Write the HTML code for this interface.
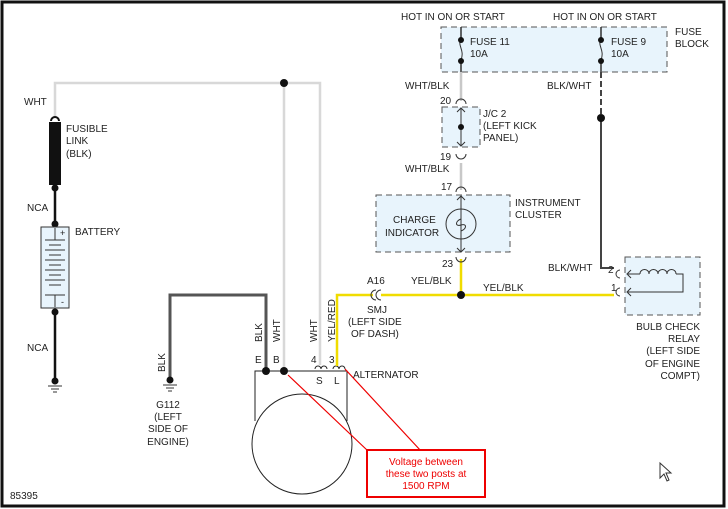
<!DOCTYPE html>
<html><head><style>body{margin:0;background:#fff}svg{display:block}text{font-family:"Liberation Sans",sans-serif;font-size:10px;fill:#222}</style></head><body>
<svg width="728" height="509" viewBox="0 0 728 509">
<rect x="2" y="2" width="722" height="504" fill="#fff" stroke="#111" stroke-width="3"/>
<!-- fuse block -->
<rect x="441" y="27" width="226" height="45" fill="#e8f4fc" stroke="#555" stroke-dasharray="6,4"/>
<rect x="442" y="107" width="38" height="40" fill="#e8f4fc" stroke="#555" stroke-dasharray="6,4"/>
<rect x="376" y="195" width="134" height="57" fill="#e8f4fc" stroke="#555" stroke-dasharray="6,4"/>
<rect x="625" y="257" width="75" height="58" fill="#e8f4fc" stroke="#555" stroke-dasharray="6,4"/>
<!-- WHT wires -->
<g fill="none" stroke="#d8d8d8" stroke-width="2.5">
<path d="M55 117V83H320V365"/><path d="M284 83V371"/>
</g>
<circle cx="284" cy="83" r="4" fill="#111"/>
<!-- fusible link & battery -->
<rect x="49" y="122" width="12" height="63" fill="#111"/>
<path d="M51 121a4 4 0 0 1 8 0" stroke="#111" stroke-width="2" fill="none"/>
<path d="M55 188V226M55 312V378" stroke="#111" stroke-width="2.5"/>
<circle cx="55" cy="188" r="3.5" fill="#111"/><circle cx="55" cy="224" r="3.5" fill="#111"/><circle cx="55" cy="312" r="3.5" fill="#111"/>
<rect x="41" y="227" width="28" height="81" fill="#e8f4fc" stroke="#333"/>
<g stroke="#333"><path d="M55 228V240M45 240H65M49 245H61M45 250H65M49 255H61M45 260H65M49 265H61M45 270H65M49 275H61M45 280H65M49 285H61M45 295H65M55 295V307"/></g>
<text x="60" y="236" style="font-size:9px">+</text><text x="61" y="305" style="font-size:9px">-</text>
<circle cx="55" cy="381" r="3.5" fill="#111"/><path d="M48 386H62M51 389H59M53 392H57" stroke="#333"/>
<!-- ground wire -->
<path d="M170 377V295H266V371" fill="none" stroke="#555" stroke-width="3"/>
<circle cx="170" cy="380" r="3.5" fill="#111"/><path d="M163 385H177M166 388H174M168 391H172" stroke="#333"/>
<!-- alternator -->
<path d="M255 421V371H347V421" fill="none" stroke="#222"/>
<circle cx="302" cy="444" r="50" fill="none" stroke="#222"/>
<circle cx="266" cy="371" r="4" fill="#111"/><circle cx="284" cy="371" r="4" fill="#111"/>
<path d="M315 369a3 3 0 0 1 6 0M321 369a3 3 0 0 1 6 0M333 369a3 3 0 0 1 6 0M339 369a3 3 0 0 1 6 0" fill="none" stroke="#222"/>
<!-- yellow -->
<g fill="none" stroke="#f0dc00" stroke-width="2.5"><path d="M337 366V295H373M381 295H614M461 259V295"/></g>
<path d="M376 290a5 5 0 0 0 0 10M381 290a5 5 0 0 0 0 10" fill="none" stroke="#333"/>
<circle cx="461" cy="295" r="4" fill="#111"/>
<!-- WHT/BLK -->
<path d="M461 72V101M461 163V190" stroke="#c8c8c8" stroke-width="2.5"/>
<path d="M461 27V40M461 60V72M601 27V40M601 60V72" stroke="#333" stroke-width="1.5"/>
<path d="M461 40c-4 5 4 10 0 20M601 40c-4 5 4 10 0 20" fill="none" stroke="#333"/>
<circle cx="461" cy="40" r="3" fill="#111"/><circle cx="461" cy="61" r="3" fill="#111"/><circle cx="601" cy="40" r="3" fill="#111"/><circle cx="601" cy="61" r="3" fill="#111"/>
<path d="M456 104a5 5 0 0 1 10 0M456 154a5 5 0 0 0 10 0M456 192a5 5 0 0 1 10 0M456 257a5 5 0 0 0 10 0" fill="none" stroke="#333"/>
<path d="M461 108V146M457 112l4-4 4 4M457 142l4 4 4-4M461 196V252M457 200l4-4 4 4M457 248l4 4 4-4" fill="none" stroke="#333"/>
<circle cx="461" cy="127" r="3" fill="#111"/>
<circle cx="461" cy="224" r="15" fill="none" stroke="#333"/>
<path d="M461 219c-6 2-6 8 0 6s6 4 0 6" fill="none" stroke="#333"/>
<!-- BLK/WHT right -->
<path d="M601 72V117" stroke="#444" stroke-width="2" stroke-dasharray="6,3"/>
<path d="M601 117V268H614" fill="none" stroke="#444" stroke-width="2"/>
<circle cx="601" cy="118" r="4" fill="#111"/>
<path d="M620 270a4 4 0 0 0 0 8M620 288a4 4 0 0 0 0 8M631 270l-4 4 4 4M631 288l-4 4 4 4M628 274H640M628 292H683V274H676" fill="none" stroke="#333"/>
<path d="M640 274c0-6 9-6 9 0c0-6 9-6 9 0c0-6 9-6 9 0c0-6 9-6 9 0" fill="none" stroke="#333"/>
<!-- red -->
<path d="M288 375L368 451M345 369L421 451" stroke="#e00" stroke-width="1.2"/>
<rect x="367" y="450" width="118" height="47" fill="#fff" stroke="#e00" stroke-width="2"/>
<g style="fill:#e00" text-anchor="middle"><text x="426" y="465" style="fill:#e00">Voltage between</text><text x="426" y="477" style="fill:#e00">these two posts at</text><text x="426" y="489" style="fill:#e00">1500 RPM</text></g>
<!-- labels -->
<text x="24" y="105">WHT</text>
<text x="66" y="132">FUSIBLE</text><text x="66" y="144">LINK</text><text x="66" y="157">(BLK)</text>
<text x="27" y="211">NCA</text><text x="75" y="235">BATTERY</text><text x="27" y="351">NCA</text>
<text x="10" y="499">85395</text>
<g text-anchor="middle"><text x="168" y="408">G112</text><text x="168" y="420">(LEFT</text><text x="168" y="432">SIDE OF</text><text x="168" y="445">ENGINE)</text></g>
<text transform="translate(165,372) rotate(-90)">BLK</text>
<text transform="translate(262,342) rotate(-90)">BLK</text>
<text transform="translate(280,342) rotate(-90)">WHT</text>
<text transform="translate(317,342) rotate(-90)">WHT</text>
<text transform="translate(335,342) rotate(-90)">YEL/RED</text>
<text x="255" y="363">E</text><text x="273" y="363">B</text><text x="311" y="363">4</text><text x="329" y="363">3</text>
<text x="316" y="384">S</text><text x="334" y="384">L</text><text x="353" y="378">ALTERNATOR</text>
<text x="367" y="284">A16</text><text x="367" y="313">SMJ</text><text x="348" y="325">(LEFT SIDE</text><text x="351" y="337">OF DASH)</text>
<text x="411" y="284">YEL/BLK</text><text x="483" y="291">YEL/BLK</text>
<text x="401" y="20">HOT IN ON OR START</text><text x="553" y="20">HOT IN ON OR START</text>
<text x="675" y="35">FUSE</text><text x="675" y="47">BLOCK</text>
<text x="470" y="45">FUSE 11</text><text x="470" y="57">10A</text><text x="611" y="45">FUSE 9</text><text x="611" y="57">10A</text>
<text x="405" y="89">WHT/BLK</text><text x="547" y="89">BLK/WHT</text>
<text x="440" y="104">20</text><text x="483" y="117">J/C 2</text><text x="483" y="129">(LEFT KICK</text><text x="483" y="141">PANEL)</text>
<text x="440" y="160">19</text><text x="405" y="172">WHT/BLK</text><text x="441" y="190">17</text>
<text x="393" y="223">CHARGE</text><text x="385" y="236">INDICATOR</text>
<text x="515" y="206">INSTRUMENT</text><text x="515" y="218">CLUSTER</text>
<text x="442" y="267">23</text>
<text x="548" y="271">BLK/WHT</text><text x="608" y="273">2</text><text x="611" y="291">1</text>
<g text-anchor="end"><text x="700" y="330">BULB CHECK</text><text x="700" y="342">RELAY</text><text x="700" y="354">(LEFT SIDE</text><text x="700" y="367">OF ENGINE</text><text x="700" y="379">COMPT)</text></g>
<path d="M660 463V478L664 474L667 481L669 480L666 473L671 473Z" fill="#fff" stroke="#333"/>
</svg>
</body></html>
